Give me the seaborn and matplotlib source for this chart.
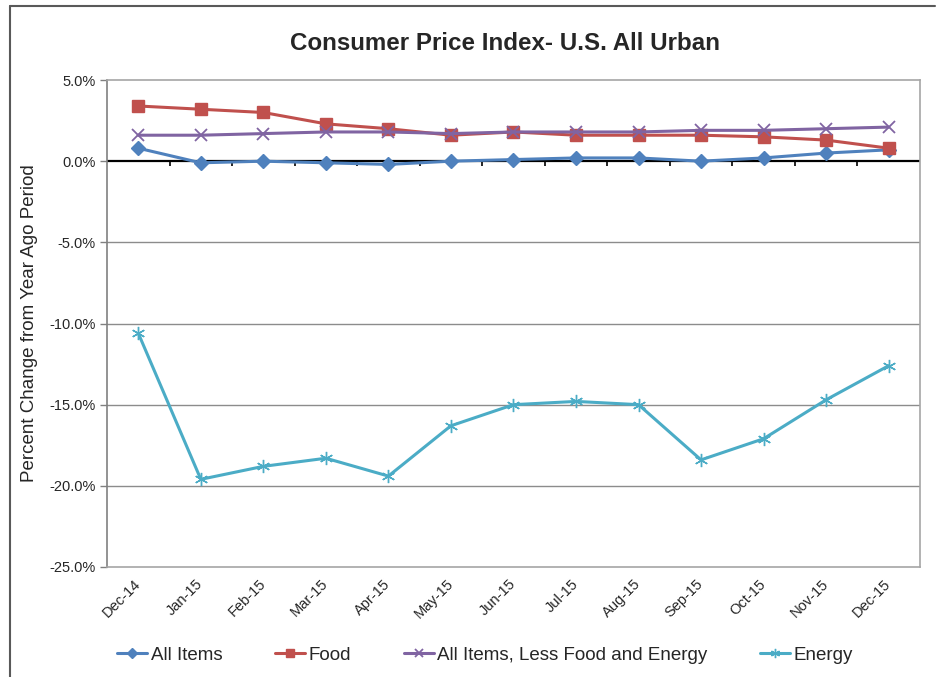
import numpy as np
import pandas as pd
import matplotlib
matplotlib.use("Agg")
import matplotlib.pyplot as plt
from matplotlib.lines import Line2D
import matplotlib.transforms as mtransforms
import seaborn as sns

sns.set_theme(style="white")
plt.rcParams["font.family"] = ["Liberation Sans", "DejaVu Sans"]

# datos (% cambio interanual)
MESES = ["Dec-14", "Jan-15", "Feb-15", "Mar-15", "Apr-15", "May-15", "Jun-15",
         "Jul-15", "Aug-15", "Sep-15", "Oct-15", "Nov-15", "Dec-15"]
ALL_ITEMS = [0.8, -0.1, 0.0, -0.1, -0.2, 0.0, 0.1, 0.2, 0.2, 0.0, 0.2, 0.5, 0.7]
FOOD = [3.4, 3.2, 3.0, 2.3, 2.0, 1.6, 1.8, 1.6, 1.6, 1.6, 1.5, 1.3, 0.8]
CORE = [1.6, 1.6, 1.7, 1.8, 1.8, 1.7, 1.8, 1.8, 1.8, 1.9, 1.9, 2.0, 2.1]
ENERGY = [-10.6, -19.6, -18.8, -18.3, -19.4, -16.3, -15.0, -14.8, -15.0,
          -18.4, -17.1, -14.7, -12.6]

SERIES = [("All Items", ALL_ITEMS, "#4F81BD", "D", 7.5, 1.0),
          ("Food", FOOD, "#C0504D", "s", 8, 1.0),
          ("All Items, Less Food and Energy", CORE, "#8064A2", "x", 9, 1.3),
          ("Energy", ENERGY, "#4BACC6", (6, 2, 0), 9.5, 1.0)]

fig = plt.figure(figsize=(9.43, 6.77), dpi=100)
ax = fig.add_axes([0.1135, 0.1625, 0.862, 0.7193])

pos = np.arange(len(MESES))
for nombre, vals, col, mk, ms, mew in SERIES:
    sns.lineplot(x=pos, y=vals, color=col, marker=mk, markersize=ms,
                 markeredgecolor=col, markerfacecolor=col, markeredgewidth=mew,
                 linewidth=2.2, label=nombre, ax=ax, zorder=3)

# grilla y eje en cero
for y in [-5, -10, -15, -20]:
    ax.axhline(y, color="#8C8C8C", lw=1, zorder=1)
ax.axhline(0, color="black", lw=1.6, zorder=2)
ax.vlines(np.arange(0.5, len(MESES) - 1), -0.3, 0, color="black", lw=1.2, zorder=2)

ax.set_xlim(-0.5, len(MESES) - 0.5)
ax.set_ylim(-25, 5)
ax.set_yticks(np.arange(-25, 6, 5))
ax.set_yticklabels([f"{v:.1f}%" for v in np.arange(-25, 6, 5)], fontsize=10.5)
ax.set_xticks(pos)
ax.set_xticklabels(MESES, rotation=45, ha="right", rotation_mode="anchor",
                   fontsize=10.5)
ax.tick_params(axis="x", length=0, pad=7)
# corrimiento leve a la izquierda de las etiquetas del eje x
desplaz = mtransforms.ScaledTranslation(-5 / 100, 0, fig.dpi_scale_trans)
for lab in ax.get_xticklabels():
    lab.set_transform(lab.get_transform() + desplaz)
ax.tick_params(axis="y", length=5, width=1, color="#808080", direction="out", pad=3,
               left=True)
for s in ["top", "right", "bottom"]:
    ax.spines[s].set_color("#A6A6A6")
    ax.spines[s].set_linewidth(1.2)
ax.spines["left"].set_color("#808080")
ax.spines["left"].set_linewidth(1.2)

ax.set_xlabel("")
ax.set_ylabel("Percent Change from Year Ago Period", fontsize=13.5, labelpad=8)

fig.text(505 / 943, 1 - 43 / 677, "Consumer Price Index- U.S. All Urban",
         ha="center", va="center", fontsize=17.4, fontweight="bold")

handles, labels = ax.get_legend_handles_labels()
ax.legend_.remove()
fig.legend(handles, labels, loc="center", bbox_to_anchor=(485 / 943, 1 - 655 / 677),
           ncol=4, frameon=False, fontsize=13.5, handlelength=1.6,
           handletextpad=0.2, columnspacing=2.8, markerscale=0.7)

# marco exterior (recortado a la derecha y abajo)
fig.add_artist(Line2D([10 / 943, 935 / 943], [1 - 6 / 677] * 2,
                      transform=fig.transFigure, color="#595959", lw=1.5))
fig.add_artist(Line2D([10 / 943] * 2, [1 - 6 / 677, 0],
                      transform=fig.transFigure, color="#595959", lw=1.5))

fig.savefig("out.png", dpi=100)
